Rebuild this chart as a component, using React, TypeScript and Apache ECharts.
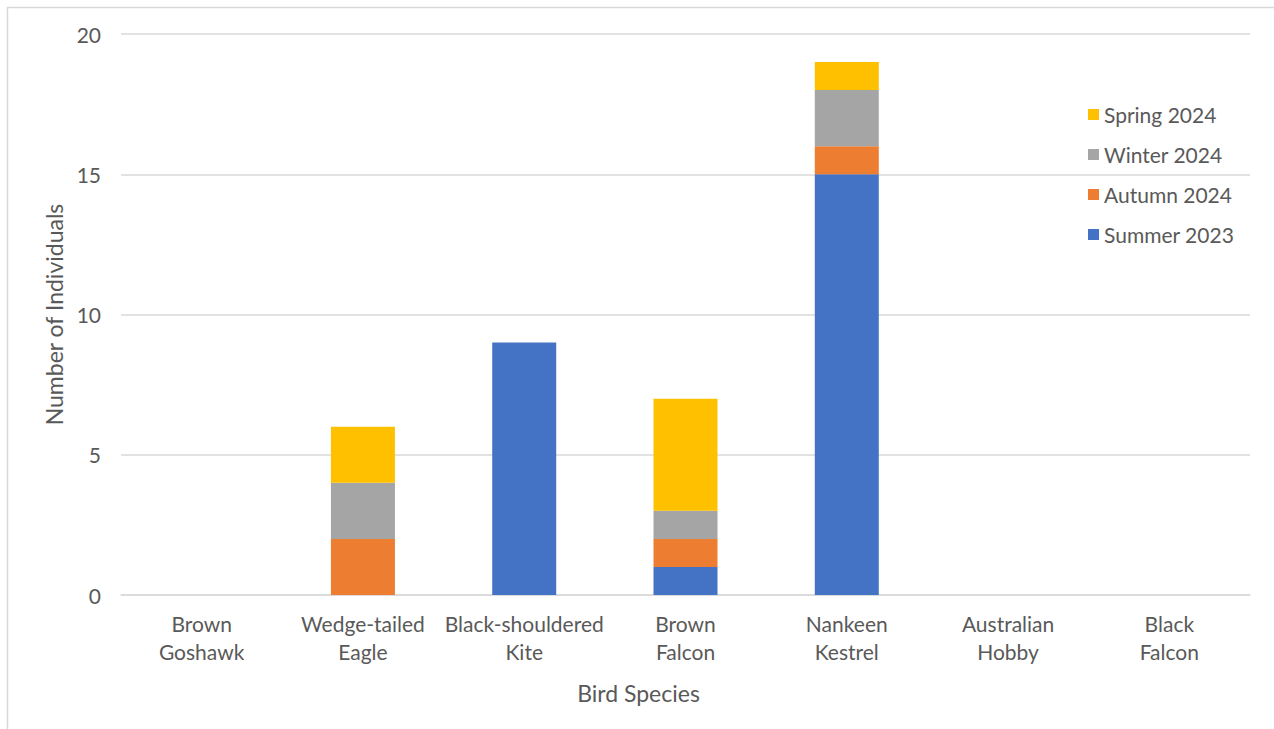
import React, { useEffect, useRef } from "react";
import * as echarts from "echarts";

const categories = [
  "Brown\nGoshawk",
  "Wedge-tailed\nEagle",
  "Black-shouldered\nKite",
  "Brown\nFalcon",
  "Nankeen\nKestrel",
  "Australian\nHobby",
  "Black\nFalcon",
];
const summer2023 = [0, 0, 9, 1, 15, 0, 0];
const autumn2024 = [0, 2, 0, 1, 1, 0, 0];
const winter2024 = [0, 2, 0, 1, 2, 0, 0];
const spring2024 = [0, 2, 0, 4, 1, 0, 0];
const yTicks = [0, 5, 10, 15, 20];

const FONT = "Lato";
const TEXT = "#595959";

export default function App() {
  const ref = useRef<HTMLDivElement>(null);
  useEffect(() => {
    const chart = echarts.init(ref.current!, null, { renderer: "svg" });
    const mk = (name: string, data: number[], color: string) => ({
      name,
      type: "bar",
      stack: "total",
      data,
      barWidth: 64,
      itemStyle: { color },
      emphasis: { disabled: true },
    });
    chart.setOption({
      animation: false,
      textStyle: { fontFamily: FONT, color: TEXT },
      graphic: [
        {
          type: "rect",
          shape: { x: 7.5, y: 7.5, width: 1400, height: 900 },
          style: { fill: "none", stroke: "#d9d9d9", lineWidth: 1.5 },
          silent: true,
        },
      ],
      grid: { left: 121, right: 24, top: 34, bottom: 134 },
      legend: {
        data: ["Spring 2024", "Winter 2024", "Autumn 2024", "Summer 2023"],
        orient: "vertical",
        left: 1083,
        top: 99,
        itemWidth: 11,
        itemHeight: 11,
        itemGap: 19,
        icon: "rect",
        textStyle: { fontFamily: FONT, fontSize: 21, color: TEXT },
      },
      xAxis: {
        type: "category",
        data: categories,
        name: "Bird Species",
        nameLocation: "middle",
        nameGap: 86,
        nameTextStyle: {
          fontFamily: FONT,
          fontSize: 23,
          color: TEXT,
          padding: [0, 94, 0, 0],
        },
        axisLine: { lineStyle: { color: "#d9d9d9", width: 1.5 } },
        axisTick: { show: false },
        axisLabel: {
          fontFamily: FONT,
          fontSize: 21,
          color: TEXT,
          lineHeight: 28,
          margin: 14,
          interval: 0,
        },
      },
      yAxis: {
        type: "value",
        min: 0,
        max: 20,
        interval: 5,
        name: "Number of Individuals",
        nameLocation: "middle",
        nameGap: 56,
        nameTextStyle: { fontFamily: FONT, fontSize: 23, color: TEXT },
        axisLabel: {
          fontFamily: FONT,
          fontSize: 21,
          color: TEXT,
          margin: 20,
          formatter: (v: number) => (yTicks.includes(v) ? String(v) : ""),
        },
        splitLine: { lineStyle: { color: "#d9d9d9", width: 1.5 } },
      },
      series: [
        mk("Summer 2023", summer2023, "#4472C4"),
        mk("Autumn 2024", autumn2024, "#ED7D31"),
        mk("Winter 2024", winter2024, "#A5A5A5"),
        mk("Spring 2024", spring2024, "#FFC000"),
      ],
    });
    return () => chart.dispose();
  }, []);
  return (
    <div
      ref={ref}
      style={{ position: "fixed", left: 0, top: 0, width: 1274, height: 729, background: "#fff" }}
    />
  );
}
